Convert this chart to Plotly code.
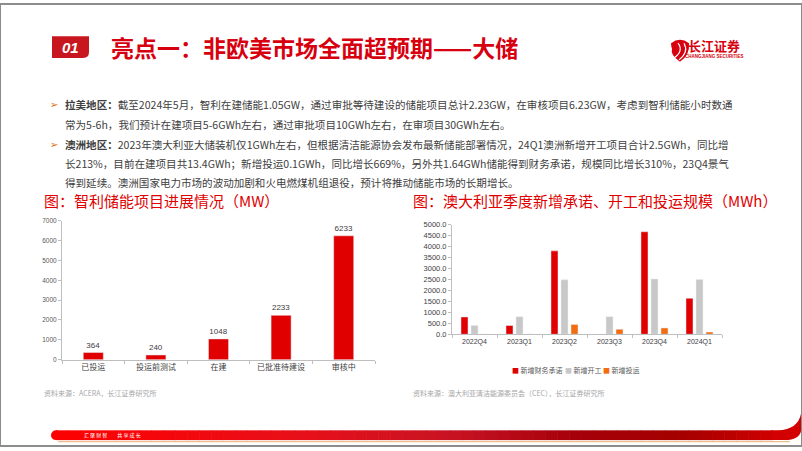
import plotly.graph_objects as go

W, H = 802, 451
def X(px): return px / W
def Y(py): return 1 - py / H

# ---------------- data ----------------
chile_cats = ["已投运", "投运前测试", "在建", "已批准待建设", "审核中"]
chile_mw = [364, 240, 1048, 2233, 6233]

aus_quarters = ["2022Q4", "2023Q1", "2023Q2", "2023Q3", "2023Q4", "2024Q1"]
aus_commit = [790, 400, 3800, 0, 4670, 1640]
aus_start = [400, 800, 2480, 800, 2520, 2500]
aus_oper = [0, 13, 450, 230, 290, 100]

series_names = ["新增财务承诺", "新增开工", "新增投运"]
series_colors = ["#E00000", "#C8C8C8", "#F36C0F"]

CJK = "Noto Sans CJK SC"
NUM = "Liberation Sans, Noto Sans CJK SC"
RED = "#E00000"

fig = go.Figure()

fig.add_trace(go.Bar(
    x=chile_cats, y=chile_mw, marker_color=RED, width=0.32,
    text=[str(v) for v in chile_mw], textposition="outside",
    textfont=dict(size=8, color="#404040", family=NUM),
    cliponaxis=False, showlegend=False, xaxis="x", yaxis="y"))

for name, vals, col in zip(series_names, [aus_commit, aus_start, aus_oper], series_colors):
    fig.add_trace(go.Bar(x=aus_quarters, y=vals, name=name, marker_color=col,
                         showlegend=False, xaxis="x2", yaxis="y2"))

axis_common = dict(showline=True, linecolor="#BFBFBF", linewidth=1, showgrid=False,
                   zeroline=False, ticks="outside", tickcolor="#BFBFBF", ticklen=3)

fig.update_layout(
    width=W, height=H, autosize=False,
    margin=dict(l=0, r=0, t=0, b=0),
    paper_bgcolor="white", plot_bgcolor="white",
    barmode="group", bargap=0.333, bargroupgap=0.3,
    showlegend=False,
    xaxis=dict(domain=[X(62), X(375)], anchor="y", tickson="boundaries",
               tickfont=dict(size=8, color="#404040", family=CJK), **axis_common),
    yaxis=dict(domain=[Y(363), Y(221)], anchor="x", range=[0, 7000], dtick=1000,
               tickfont=dict(size=6.5, color="#595959", family=NUM), **axis_common),
    xaxis2=dict(domain=[X(452), X(722)], anchor="y2", tickson="boundaries",
                tickfont=dict(size=7, color="#404040", family=NUM), **axis_common),
    yaxis2=dict(domain=[Y(337), Y(225)], anchor="x2", range=[0, 5000], dtick=500,
                tickformat=".1f", tickfont=dict(size=7.5, color="#404040", family=NUM),
                **axis_common),
)

shapes = []
# page border
shapes.append(dict(type="rect", xref="paper", yref="paper", x0=0, x1=1, y0=0, y1=1,
                   line=dict(color="#8C8C8C", width=2), fillcolor="rgba(0,0,0,0)", layer="above"))

# "01" box
p = "M {},{} L {},{} L {},{} Q {},{} {},{} L {},{} Z".format(
    X(52), Y(33), X(89), Y(33), X(89), Y(49), X(89), Y(55), X(83), Y(55), X(52), Y(55))
shapes.append(dict(type="path", xref="paper", yref="paper", path=p,
                   fillcolor="#C8161E", line=dict(width=0)))

# logo icon
p = "M {},{} Q {},{} {},{} Q {},{} {},{} Q {},{} {},{} Q {},{} {},{} Z".format(
    X(671), Y(40), X(680), Y(33), X(689), Y(40),
    X(690), Y(52), X(680), Y(59),
    X(670), Y(52), X(672), Y(46),
    X(671), Y(43), X(671), Y(40))
shapes.append(dict(type="path", xref="paper", yref="paper", path=p,
                   fillcolor="#D7000F", line=dict(width=0)))
p = "M {},{} Q {},{} {},{}".format(X(674), Y(55), X(684), Y(48), X(678), Y(40))
shapes.append(dict(type="path", xref="paper", yref="paper", path=p,
                   line=dict(color="white", width=1.2)))
p = "M {},{} Q {},{} {},{}".format(X(679), Y(57), X(689), Y(49), X(684), Y(40))
shapes.append(dict(type="path", xref="paper", yref="paper", path=p,
                   line=dict(color="white", width=1.2)))

# footer bar with gradient
FT, FB = 435, 445
stops = [(51, (255, 0, 0)), (300, (232, 16, 26)), (450, (200, 20, 36)),
         (580, (165, 0, 10)), (680, (165, 0, 0)), (790, (215, 0, 0))]
def col_at(x):
    for (x0, c0), (x1, c1) in zip(stops[:-1], stops[1:]):
        if x0 <= x <= x1:
            t = (x - x0) / (x1 - x0)
            return "rgb({},{},{})".format(*[int(a + (b - a) * t) for a, b in zip(c0, c1)])
    return "rgb(215,0,0)"

shapes.append(dict(type="line", xref="paper", yref="paper", x0=X(58), x1=X(790),
                   y0=Y(FB + 1.5), y1=Y(FB + 1.5), line=dict(color="#EDBE8A", width=1.2)))
shapes.append(dict(type="circle", xref="paper", yref="paper", x0=X(51), x1=X(61),
                   y0=Y(FB), y1=Y(FT), fillcolor="rgb(255,0,0)", line=dict(width=0)))
n = 60
x0 = 56
step = (772 - 56) / n
for i in range(n):
    xa = x0 + i * step
    shapes.append(dict(type="rect", xref="paper", yref="paper", x0=X(xa), x1=X(xa + step + 0.6),
                       y0=Y(FB), y1=Y(FT), fillcolor=col_at(xa + step / 2), line=dict(width=0)))
p = "M {},{} L {},{} Q {},{} {},{} L {},{} Q {},{} {},{} L {},{} Z".format(
    X(771), Y(FT), X(778), Y(FT), X(798), Y(FT - 1), X(801), Y(FT - 17),
    X(801), Y(FT + 1), X(799), Y(FB), X(785), Y(FB), X(771), Y(FB))
shapes.append(dict(type="path", xref="paper", yref="paper", path=p,
                   fillcolor="rgb(210,0,0)", line=dict(width=0)))

fig.update_layout(shapes=shapes)

ann = []
def text(x, y, s, size, color, family=CJK, xanchor="left", yanchor="middle"):
    ann.append(dict(x=X(x), y=Y(y), xref="paper", yref="paper", text=s, showarrow=False,
                    xanchor=xanchor, yanchor=yanchor, align="left",
                    font=dict(size=size, color=color, family=family)))

text(70.5, 44, "<b><i>01</i></b>", 15, "white", family="Liberation Sans", xanchor="center")
text(109, 44, "<b>亮点一：非欧美市场全面超预期——大储</b>", 23, "#D7000F")
text(714, 42, "<b>长江证券</b>", 13, "#D7000F", xanchor="center")
text(714, 53.5, "<b>CHANGJIANG SECURITIES</b>", 4.5, "#D7000F", family="Liberation Sans", xanchor="center")

bullet_color = "#E46C0A"
body = "#404040"
lines = [
    (103, True, "<b>拉美地区：</b>截至2024年5月，智利在建储能1.05GW，通过审批等待建设的储能项目总计2.23GW，在审核项目6.23GW，考虑到智利储能小时数通"),
    (123, False, "常为5-6h，我们预计在建项目5-6GWh左右，通过审批项目10GWh左右，在审项目30GWh左右。"),
    (143, True, "<b>澳洲地区：</b>2023年澳大利亚大储装机仅1GWh左右，但根据清洁能源协会发布最新储能部署情况，24Q1澳洲新增开工项目合计2.5GWh，同比增"),
    (163, False, "长213%，目前在建项目共13.4GWh；新增投运0.1GWh，同比增长669%，另外共1.64GWh储能得到财务承诺，规模同比增长310%，23Q4景气"),
    (182, False, "得到延续。澳洲国家电力市场的波动加剧和火电燃煤机组退役，预计将推动储能市场的长期增长。"),
]
for y, bullet, s in lines:
    if bullet:
        text(48, y, "➢", 10, bullet_color, family="DejaVu Sans")
    text(63, y, s, 10.55, body)

text(42, 200, "图：智利储能项目进展情况（MW）", 15, "#E00000")
text(411, 200, "图：澳大利亚季度新增承诺、开工和投运规模（MWh）", 15, "#E00000")

text(42, 397, "资料来源：ACERA，长江证券研究所", 7, "#A6A6A6")
text(411, 397, "资料来源：澳大利亚清洁能源委员会（CEC），长江证券研究所", 7, "#A6A6A6")

# legend for right chart
leg_x = [510, 563, 601]
for lx, name, col in zip(leg_x, series_names, series_colors):
    text(lx, 373, '<span style="color:{}">■</span> {}'.format(col, name), 7, "#595959")

text(82, (FT + FB) / 2, "汇 聚 财 智　　共 享 成 长", 5, "white")

fig.update_layout(annotations=ann)

fig.write_html("out.html")
